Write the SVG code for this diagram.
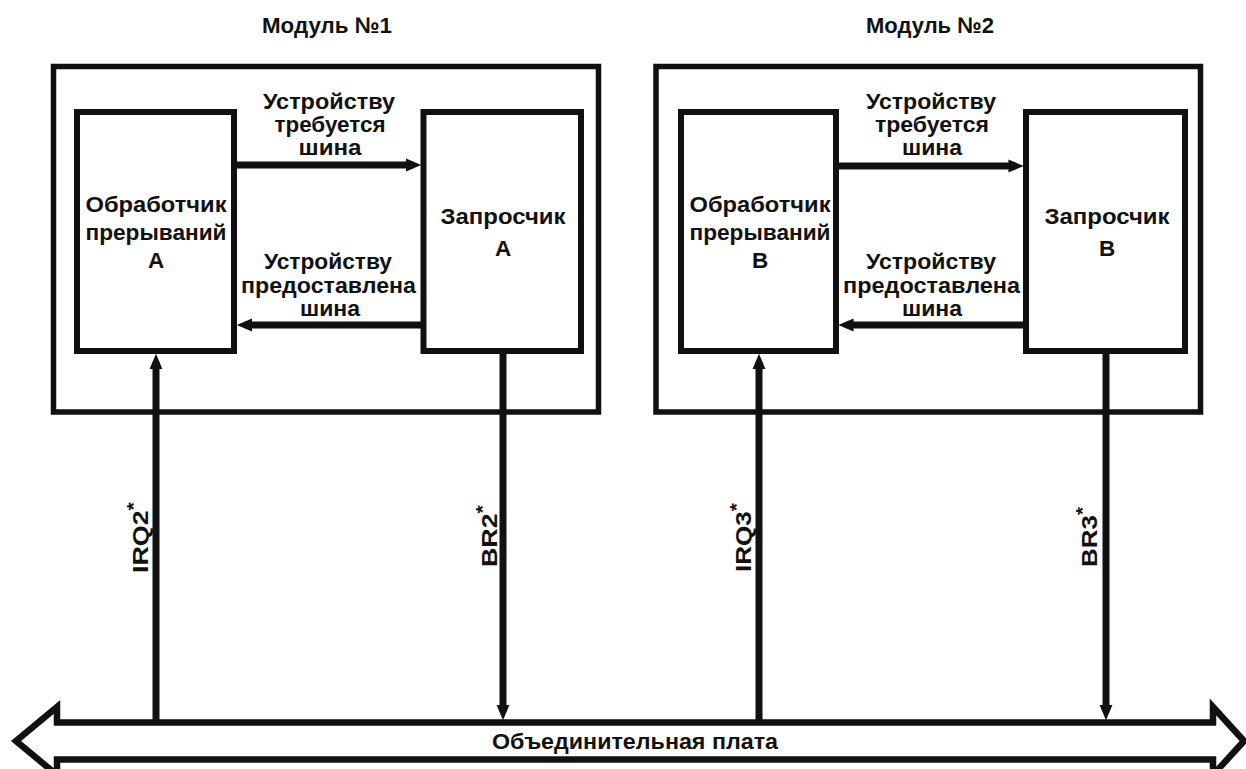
<svg xmlns="http://www.w3.org/2000/svg" width="1246" height="769" viewBox="0 0 1246 769">
<style>
  .box{fill:none;stroke:#111;stroke-width:6}
  .outer{fill:none;stroke:#111;stroke-width:5.5}
  .con{fill:none;stroke:#111;stroke-width:7}
  .bus{fill:none;stroke:#111;stroke-width:6.5;stroke-linejoin:miter}
  text{font-family:"Liberation Sans",Arial,sans-serif;font-weight:bold;font-size:22.5px;fill:#111}
  .c{text-anchor:middle}
</style>
<defs>
  <marker id="ah" markerUnits="userSpaceOnUse" markerWidth="20" markerHeight="20" viewBox="0 -8 17 16" refX="6" refY="0" orient="auto">
    <path d="M0,-5.5 L13,0 L0,5.5 Z" fill="#111"/>
  </marker>
</defs>
<rect width="1246" height="769" fill="#fff"/>

<g id="module1">
  <rect class="outer" x="53.5" y="66.5" width="545" height="345.5"/>
  <text class="c" x="327" y="33" textLength="130" lengthAdjust="spacingAndGlyphs">Модуль №1</text>
</g>
<g id="handlerA">
  <rect class="box" x="77" y="112" width="157" height="239"/>
  <text class="c" x="156" y="212" textLength="141" lengthAdjust="spacingAndGlyphs">Обработчик</text>
  <text class="c" x="156" y="240" textLength="141" lengthAdjust="spacingAndGlyphs">прерываний</text>
  <text class="c" x="156" y="268">А</text>
</g>
<g id="requesterA">
  <rect class="box" x="423.5" y="112" width="157.5" height="239"/>
  <text class="c" x="503" y="224" textLength="125" lengthAdjust="spacingAndGlyphs">Запросчик</text>
  <text class="c" x="503" y="256">А</text>
</g>

<g id="module2">
  <rect class="outer" x="656" y="66.5" width="544.5" height="345.5"/>
  <text class="c" x="930" y="33" textLength="128" lengthAdjust="spacingAndGlyphs">Модуль №2</text>
</g>
<g id="handlerB">
  <rect class="box" x="681" y="112" width="155" height="239"/>
  <text class="c" x="760" y="212" textLength="141" lengthAdjust="spacingAndGlyphs">Обработчик</text>
  <text class="c" x="760" y="240" textLength="141" lengthAdjust="spacingAndGlyphs">прерываний</text>
  <text class="c" x="760" y="268">В</text>
</g>
<g id="requesterB">
  <rect class="box" x="1026" y="112" width="159" height="239"/>
  <text class="c" x="1107" y="224" textLength="125" lengthAdjust="spacingAndGlyphs">Запросчик</text>
  <text class="c" x="1107" y="256">В</text>
</g>

<g id="bus">
  <path class="bus" d="M57,722.5 L1213,722.5 L1213,707 L1244,741 L1213,775 L1213,759.5 L57,759.5 L57,775 L16,741 L57,707 Z"/>
  <text class="c" x="635" y="749" textLength="286" lengthAdjust="spacingAndGlyphs">Объединительная плата</text>
</g>

<g id="connectors">
  <path class="con" d="M234,165 L413,165" marker-end="url(#ah)"/>
  <text class="c" x="329" y="108.5" textLength="132" lengthAdjust="spacingAndGlyphs">Устройству</text>
  <text class="c" x="330" y="131.5" textLength="111" lengthAdjust="spacingAndGlyphs">требуется</text>
  <text class="c" x="330" y="154.5" textLength="63" lengthAdjust="spacingAndGlyphs">шина</text>

  <path class="con" d="M423.5,325 L245,325" marker-end="url(#ah)"/>
  <text class="c" x="328" y="269" textLength="128" lengthAdjust="spacingAndGlyphs">Устройству</text>
  <text class="c" x="328.5" y="292.5" textLength="175" lengthAdjust="spacingAndGlyphs">предоставлена</text>
  <text class="c" x="330" y="316" textLength="60" lengthAdjust="spacingAndGlyphs">шина</text>

  <path class="con" d="M836,166 L1015.5,166" marker-end="url(#ah)"/>
  <text class="c" x="931" y="108.5" textLength="130" lengthAdjust="spacingAndGlyphs">Устройству</text>
  <text class="c" x="932" y="131.5" textLength="114" lengthAdjust="spacingAndGlyphs">требуется</text>
  <text class="c" x="932" y="154.5" textLength="60" lengthAdjust="spacingAndGlyphs">шина</text>

  <path class="con" d="M1026,325 L846.5,325" marker-end="url(#ah)"/>
  <text class="c" x="931" y="269" textLength="130" lengthAdjust="spacingAndGlyphs">Устройству</text>
  <text class="c" x="931.5" y="292.5" textLength="177" lengthAdjust="spacingAndGlyphs">предоставлена</text>
  <text class="c" x="932" y="316" textLength="60" lengthAdjust="spacingAndGlyphs">шина</text>

  <path class="con" d="M156,722 L156,362" marker-end="url(#ah)"/>
  <text transform="translate(148,573) rotate(-90)" textLength="71" lengthAdjust="spacingAndGlyphs">IRQ2<tspan dy="-8" font-size="18">*</tspan></text>

  <path class="con" d="M503,354 L503,712" marker-end="url(#ah)"/>
  <text transform="translate(497,567) rotate(-90)" textLength="62" lengthAdjust="spacingAndGlyphs">BR2<tspan dy="-8" font-size="18">*</tspan></text>

  <path class="con" d="M759,722 L759,362" marker-end="url(#ah)"/>
  <text transform="translate(751,572) rotate(-90)" textLength="69" lengthAdjust="spacingAndGlyphs">IRQ3<tspan dy="-8" font-size="18">*</tspan></text>

  <path class="con" d="M1106,354 L1106,712" marker-end="url(#ah)"/>
  <text transform="translate(1097,567) rotate(-90)" textLength="60" lengthAdjust="spacingAndGlyphs">BR3<tspan dy="-8" font-size="18">*</tspan></text>
</g>
</svg>
